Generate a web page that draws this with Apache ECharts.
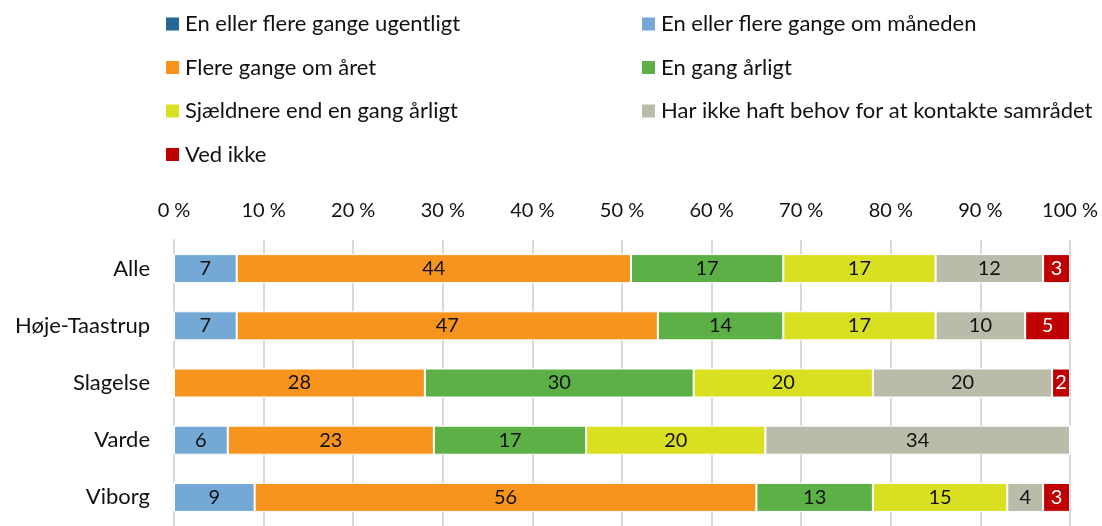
<!DOCTYPE html>
<html><head><meta charset="utf-8">
<script src="https://cdn.jsdelivr.net/npm/echarts@6/dist/echarts.min.js"></script>
<style>html,body{margin:0;padding:0;background:#fff}#c{width:1102px;height:526px}</style>
</head><body><div id="c"></div>
<script>
const categories = ['Alle', 'Høje-Taastrup', 'Slagelse', 'Varde', 'Viborg'];
const seriesNames = ['En eller flere gange ugentligt', 'En eller flere gange om måneden', 'Flere gange om året', 'En gang årligt', 'Sjældnere end en gang årligt', 'Har ikke haft behov for at kontakte samrådet', 'Ved ikke'];
const ugentligt = [0, 0, 0, 0, 0];
const maaneden = [7, 7, 0, 6, 9];
const flereAaret = [44, 47, 28, 23, 56];
const enGangAarligt = [17, 14, 30, 17, 13];
const sjaeldnere = [17, 17, 20, 20, 15];
const ikkeBehov = [12, 10, 20, 34, 4];
const vedIkke = [3, 5, 2, 0, 3];
const tickLabels = ['0 %', '10 %', '20 %', '30 %', '40 %', '50 %', '60 %', '70 %', '80 %', '90 %', '100 %'];
const colors = ['#276796', '#74A9D6', '#F7941D', '#5DB045', '#D9E021', '#BBBBAA', '#C00000'];
const values = [ugentligt, maaneden, flereAaret, enGangAarligt, sjaeldnere, ikkeBehov, vedIkke];
const FONT = 'Lato';

const chart = echarts.init(document.getElementById('c'));
const series = seriesNames.map((n, i) => ({
  name: n, type: 'bar', stack: 'a', barWidth: 29,
  data: values[i],
  itemStyle: { color: colors[i], borderColor: '#fff', borderWidth: 1 },
  label: {
    show: true, position: 'inside', fontFamily: FONT, fontSize: 20,
    color: i === 6 ? '#fff' : '#111',
    formatter: p => p.value ? String(p.value) : ''
  }
}));
const legendText = { fontFamily: FONT, fontSize: 22, color: '#111' };
chart.setOption({
  animation: false,
  textStyle: { fontFamily: FONT },
  legend: [
    { data: [seriesNames[0], seriesNames[2], seriesNames[4], seriesNames[6]], orient: 'vertical', left: 159, top: 8, itemWidth: 15, itemHeight: 15, itemGap: 21.5, textStyle: legendText, icon: 'rect' },
    { data: [seriesNames[1], seriesNames[3], seriesNames[5]], orient: 'vertical', left: 635, top: 8, itemWidth: 15, itemHeight: 15, itemGap: 21.5, textStyle: legendText, icon: 'rect' }
  ],
  grid: { left: 174, right: 32, top: 240, height: 293 },
  xAxis: {
    type: 'value', position: 'top', min: 0, max: 100, interval: 10,
    axisLine: { show: false }, axisTick: { show: false },
    axisLabel: { fontFamily: FONT, fontSize: 20, color: '#111', margin: 19, formatter: v => tickLabels[Math.round(v / 10)] },
    splitLine: { lineStyle: { color: '#D9D9D9', width: 2 } }
  },
  yAxis: {
    type: 'category', data: categories, inverse: true,
    axisLine: { show: true, lineStyle: { color: '#D9D9D9', width: 2 } }, axisTick: { show: false },
    axisLabel: { fontFamily: FONT, fontSize: 22, color: '#111', margin: 24 }
  },
  series: series
});
</script></body></html>
